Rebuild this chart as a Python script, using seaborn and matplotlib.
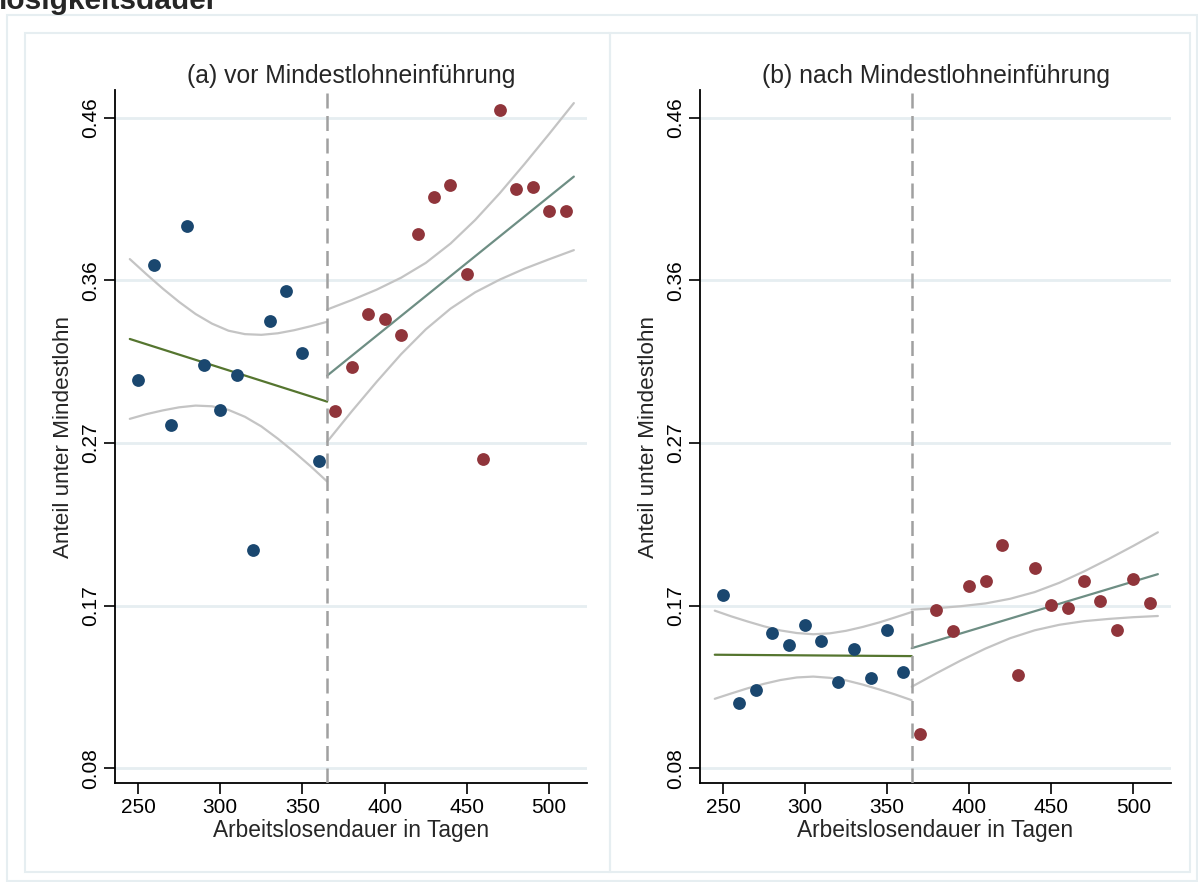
import numpy as np
import pandas as pd
import matplotlib
matplotlib.use("Agg")
import matplotlib.pyplot as plt
from matplotlib.patches import Rectangle
import seaborn as sns

# Werte
tage_vor = [250, 260, 270, 280, 290, 300, 310, 320, 330, 340, 350, 360]
tage_nach = [370, 380, 390, 400, 410, 420, 430, 440, 450, 460, 470, 480, 490, 500, 510]

anteil_a_vor = [0.3031, 0.3698, 0.2769, 0.3923, 0.3119, 0.2856, 0.3061, 0.2043,
                0.3371, 0.3545, 0.3187, 0.2561]
anteil_a_nach = [0.2852, 0.3104, 0.3413, 0.3385, 0.3294, 0.3879, 0.4095, 0.4166,
                 0.3648, 0.2572, 0.4599, 0.4141, 0.4149, 0.4015, 0.4015]
anteil_b_vor = [0.1784, 0.1157, 0.1230, 0.1560, 0.1494, 0.1606, 0.1513, 0.1274,
                0.1467, 0.1298, 0.1577, 0.1336]
anteil_b_nach = [0.0972, 0.1695, 0.1571, 0.1836, 0.1863, 0.2073, 0.1315, 0.1940,
                 0.1726, 0.1708, 0.1863, 0.1747, 0.1581, 0.1876, 0.1737]

# lineare Anpassung (Endpunkte)
fit_x_vor = [245, 365]
fit_x_nach = [365, 515]
fit_a_vor = [0.3269, 0.2905]
fit_a_nach = [0.3056, 0.4212]
fit_b_vor = [0.1435, 0.1427]
fit_b_nach = [0.1473, 0.1903]

# 95%-Konfidenzband
band_x_vor = [245, 255, 265, 275, 285, 295, 305, 315, 325, 335, 345, 355, 365]
band_x_nach = [365, 380, 395, 410, 425, 440, 455, 470, 485, 500, 515]
a_oben_vor = [0.3733, 0.3646, 0.3562, 0.3484, 0.3414, 0.3358, 0.3317, 0.3297,
              0.3293, 0.3302, 0.3320, 0.3343, 0.3369]
a_unten_vor = [0.2805, 0.2832, 0.2854, 0.2872, 0.2882, 0.2878, 0.2857, 0.2817,
               0.2761, 0.2690, 0.2612, 0.2529, 0.2441]
a_oben_nach = [0.3440, 0.3495, 0.3555, 0.3625, 0.3711, 0.3823, 0.3960, 0.4116,
               0.4285, 0.4460, 0.4639]
a_unten_nach = [0.2672, 0.2849, 0.3019, 0.3181, 0.3325, 0.3445, 0.3540, 0.3614,
                0.3677, 0.3732, 0.3785]
b_oben_vor = [0.1691, 0.1658, 0.1628, 0.1600, 0.1576, 0.1561, 0.1554, 0.1559,
              0.1574, 0.1596, 0.1622, 0.1652, 0.1683]
b_unten_vor = [0.1179, 0.1210, 0.1240, 0.1266, 0.1288, 0.1303, 0.1308, 0.1301,
               0.1286, 0.1262, 0.1234, 0.1204, 0.1171]
b_oben_nach = [0.1697, 0.1705, 0.1717, 0.1733, 0.1760, 0.1799, 0.1853, 0.1919,
               0.1991, 0.2067, 0.2146]
b_unten_nach = [0.1249, 0.1327, 0.1402, 0.1471, 0.1531, 0.1577, 0.1609, 0.1630,
                0.1643, 0.1653, 0.1660]

y_ticks = [0.0775, 0.172, 0.2665, 0.361, 0.4555]
y_labels = ["0.08", "0.17", "0.27", "0.36", "0.46"]
x_ticks = [250, 300, 350, 400, 450, 500]
schwelle = 365

blau = "#1a476f"
rot = "#90353b"
gruen = "#55752f"
petrol = "#6e8e84"
grau_ci = "#c4c4c4"
grau_linie = "#a0a0a0"
rahmen = "#e6eef1"

sns.set_theme(style="white")
plt.rcParams['font.family'] = ['Liberation Sans', 'DejaVu Sans']

fig = plt.figure(figsize=(11.98, 8.82), dpi=100)
W, H = 1198, 882

# Rahmen (Graph und Teilgrafiken)
def box(x0, y0, x1, y1):
    fig.patches.append(Rectangle((x0 / W, 1 - y1 / H), (x1 - x0) / W, (y1 - y0) / H,
                                 transform=fig.transFigure, fill=False,
                                 edgecolor=rahmen, linewidth=1.5, zorder=0))

box(7, 15, 1197, 881)
box(25, 33, 610, 872)
box(610, 33, 1190, 872)

# Überschrift, oben abgeschnitten wie im Original
fig.text(-0.001, 1 - 9 / H, "losigkeitsdauer", fontsize=21.5, fontweight="bold",
         va="baseline", ha="left")

panels = [
    dict(pos=(115, 90, 587, 783), titel="(a) vor Mindestlohneinführung",
         vor=anteil_a_vor, nach=anteil_a_nach, fv=fit_a_vor, fn=fit_a_nach,
         ov=a_oben_vor, uv=a_unten_vor, on=a_oben_nach, un=a_unten_nach),
    dict(pos=(700, 90, 1171, 783), titel="(b) nach Mindestlohneinführung",
         vor=anteil_b_vor, nach=anteil_b_nach, fv=fit_b_vor, fn=fit_b_nach,
         ov=b_oben_vor, uv=b_unten_vor, on=b_oben_nach, un=b_unten_nach),
]

for p in panels:
    x0, y0, x1, y1 = p["pos"]
    ax = fig.add_axes([x0 / W, 1 - y1 / H, (x1 - x0) / W, (y1 - y0) / H])
    ax.set_facecolor("white")

    for yt in y_ticks:
        ax.axhline(yt, color=rahmen, linewidth=2, zorder=0)

    # Konfidenzband
    for bx, werte in [(band_x_vor, p["ov"]), (band_x_vor, p["uv"]),
                      (band_x_nach, p["on"]), (band_x_nach, p["un"])]:
        sns.lineplot(x=bx, y=werte, ax=ax, color=grau_ci, linewidth=1.6,
                     estimator=None, sort=False, zorder=2)

    sns.lineplot(x=fit_x_vor, y=p["fv"], ax=ax, color=gruen, linewidth=1.6,
                 estimator=None, zorder=3)
    sns.lineplot(x=fit_x_nach, y=p["fn"], ax=ax, color=petrol, linewidth=1.6,
                 estimator=None, zorder=3)

    sns.scatterplot(x=tage_vor, y=p["vor"], ax=ax, color=blau, s=85,
                    linewidth=0, zorder=4)
    sns.scatterplot(x=tage_nach, y=p["nach"], ax=ax, color=rot, s=85,
                    linewidth=0, zorder=4)

    ax.axvline(schwelle, color=grau_linie, linewidth=1.8, dashes=(6, 3), zorder=5)

    ax.set_xlim(236, 523)
    ax.set_ylim(0.069, 0.4715)
    ax.set_xticks(x_ticks)
    ax.set_yticks(y_ticks)
    ax.set_yticklabels(y_labels)
    for lab in ax.get_yticklabels():
        lab.set_rotation(90)
        lab.set_va("center")
        lab.set_ha("right")

    ax.tick_params(axis="both", direction="out", length=8, width=1.2,
                   colors="black", labelsize=15, left=True, bottom=True, pad=3)
    for side in ["top", "right"]:
        ax.spines[side].set_visible(False)
    for side in ["left", "bottom"]:
        ax.spines[side].set_color("black")
        ax.spines[side].set_linewidth(1.3)
    ax.grid(False)

    ax.set_title(p["titel"], fontsize=17.8, pad=5)
    ax.set_xlabel("Arbeitslosendauer in Tagen", fontsize=16.4, labelpad=1)
    ax.set_ylabel("Anteil unter Mindestlohn", fontsize=16.2, labelpad=5)

fig.savefig("out.png", dpi=100)
